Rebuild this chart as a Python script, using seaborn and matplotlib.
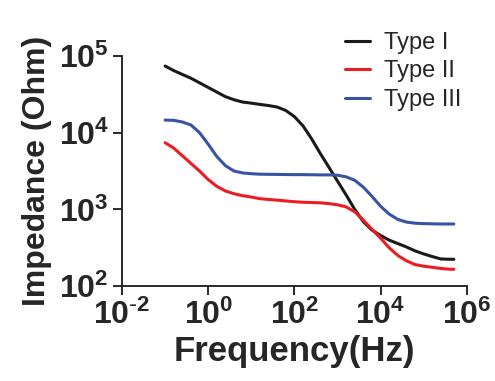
import numpy as np
import pandas as pd
import seaborn as sns
import matplotlib
matplotlib.use("Agg")
import matplotlib.pyplot as plt

# values (frequency in Hz, impedance in Ohm)
freq = [0.1, 0.158, 0.251, 0.398, 0.631, 1, 1.58, 2.51, 3.98, 6.31,
        10, 15.8, 25.1, 39.8, 63.1, 100, 158, 251, 398, 631,
        1000, 1580, 2510, 3980, 6310, 1e4, 1.58e4, 2.51e4, 3.98e4, 6.31e4,
        1e5, 1.58e5, 2.51e5, 3.98e5, 5.01e5]
type_1 = [74000, 64600, 57500, 51300, 44700, 38900, 33900, 29500, 26900, 25100,
          24300, 23400, 22600, 21600, 19500, 16200, 12300, 8320, 5370, 3550,
          2340, 1550, 1000, 692, 537, 457, 398, 359, 324, 288,
          263, 243, 226, 224, 224]
type_2 = [7410, 6310, 5010, 3980, 3160, 2450, 2000, 1740, 1600, 1510,
          1450, 1380, 1350, 1320, 1290, 1260, 1240, 1230, 1220, 1190,
          1150, 1080, 933, 724, 550, 422, 316, 251, 214, 191,
          182, 176, 170, 166, 166]
type_3 = [14600, 14500, 13800, 12600, 10000, 7080, 4900, 3720, 3160, 2990,
          2920, 2880, 2870, 2860, 2850, 2840, 2840, 2830, 2820, 2820,
          2790, 2660, 2400, 1950, 1480, 1100, 870, 741, 684, 661,
          653, 649, 646, 646, 646]
series_names = ["Type I", "Type II", "Type III"]
series_colors = ["#1a1a1a", "#ed1c24", "#3953a4"]

x_ticks = [1e-2, 1e0, 1e2, 1e4, 1e6]
x_tick_labels = [r"$10^{\text{-}2}$", "$10^{0}$", "$10^{2}$", "$10^{4}$", "$10^{6}$"]
y_ticks = [1e2, 1e3, 1e4, 1e5]
y_tick_labels = ["$10^{2}$", "$10^{3}$", "$10^{4}$", "$10^{5}$"]

df = pd.concat([
    pd.DataFrame({"freq": freq, "z": vals, "type": name})
    for name, vals in zip(series_names, [type_1, type_2, type_3])
], ignore_index=True)

sns.set_style("ticks")
plt.rcParams["font.family"] = ["Liberation Sans", "DejaVu Sans"]
plt.rcParams["mathtext.default"] = "regular"

fig = plt.figure(figsize=(4.95, 3.81), dpi=100)
ax = fig.add_axes([0.2465, 0.249, 0.6965, 0.604])

sns.lineplot(data=df, x="freq", y="z", hue="type", hue_order=series_names,
             palette=series_colors, linewidth=2.2, ax=ax, sort=False)

ax.set_xscale("log")
ax.set_yscale("log")
ax.set_xlim(1e-2, 1e6)
ax.set_ylim(1e2, 1e5)
ax.set_xticks(x_ticks, labels=x_tick_labels, fontweight="bold", fontsize=23)
ax.set_yticks(y_ticks, labels=y_tick_labels, fontweight="bold", fontsize=23)
ax.minorticks_off()
ax.tick_params(length=6.5, width=1.3, pad=3, color="#1a1a1a")
for s in ["left", "bottom"]:
    ax.spines[s].set_linewidth(1.3)
    ax.spines[s].set_color("#1a1a1a")
sns.despine(ax=ax)

ax.set_xlabel("Frequency(Hz)", fontsize=25, fontweight="bold", labelpad=3)
ax.set_ylabel("Impedance (Ohm)", fontsize=23, fontweight="bold", labelpad=5)

leg = ax.legend(frameon=False, fontsize=17, loc="upper left",
                bbox_to_anchor=(0.62, 1.146), handlelength=1.05, handletextpad=0.6,
                labelspacing=0.28, borderaxespad=0)

fig.savefig("out.png", dpi=100)
